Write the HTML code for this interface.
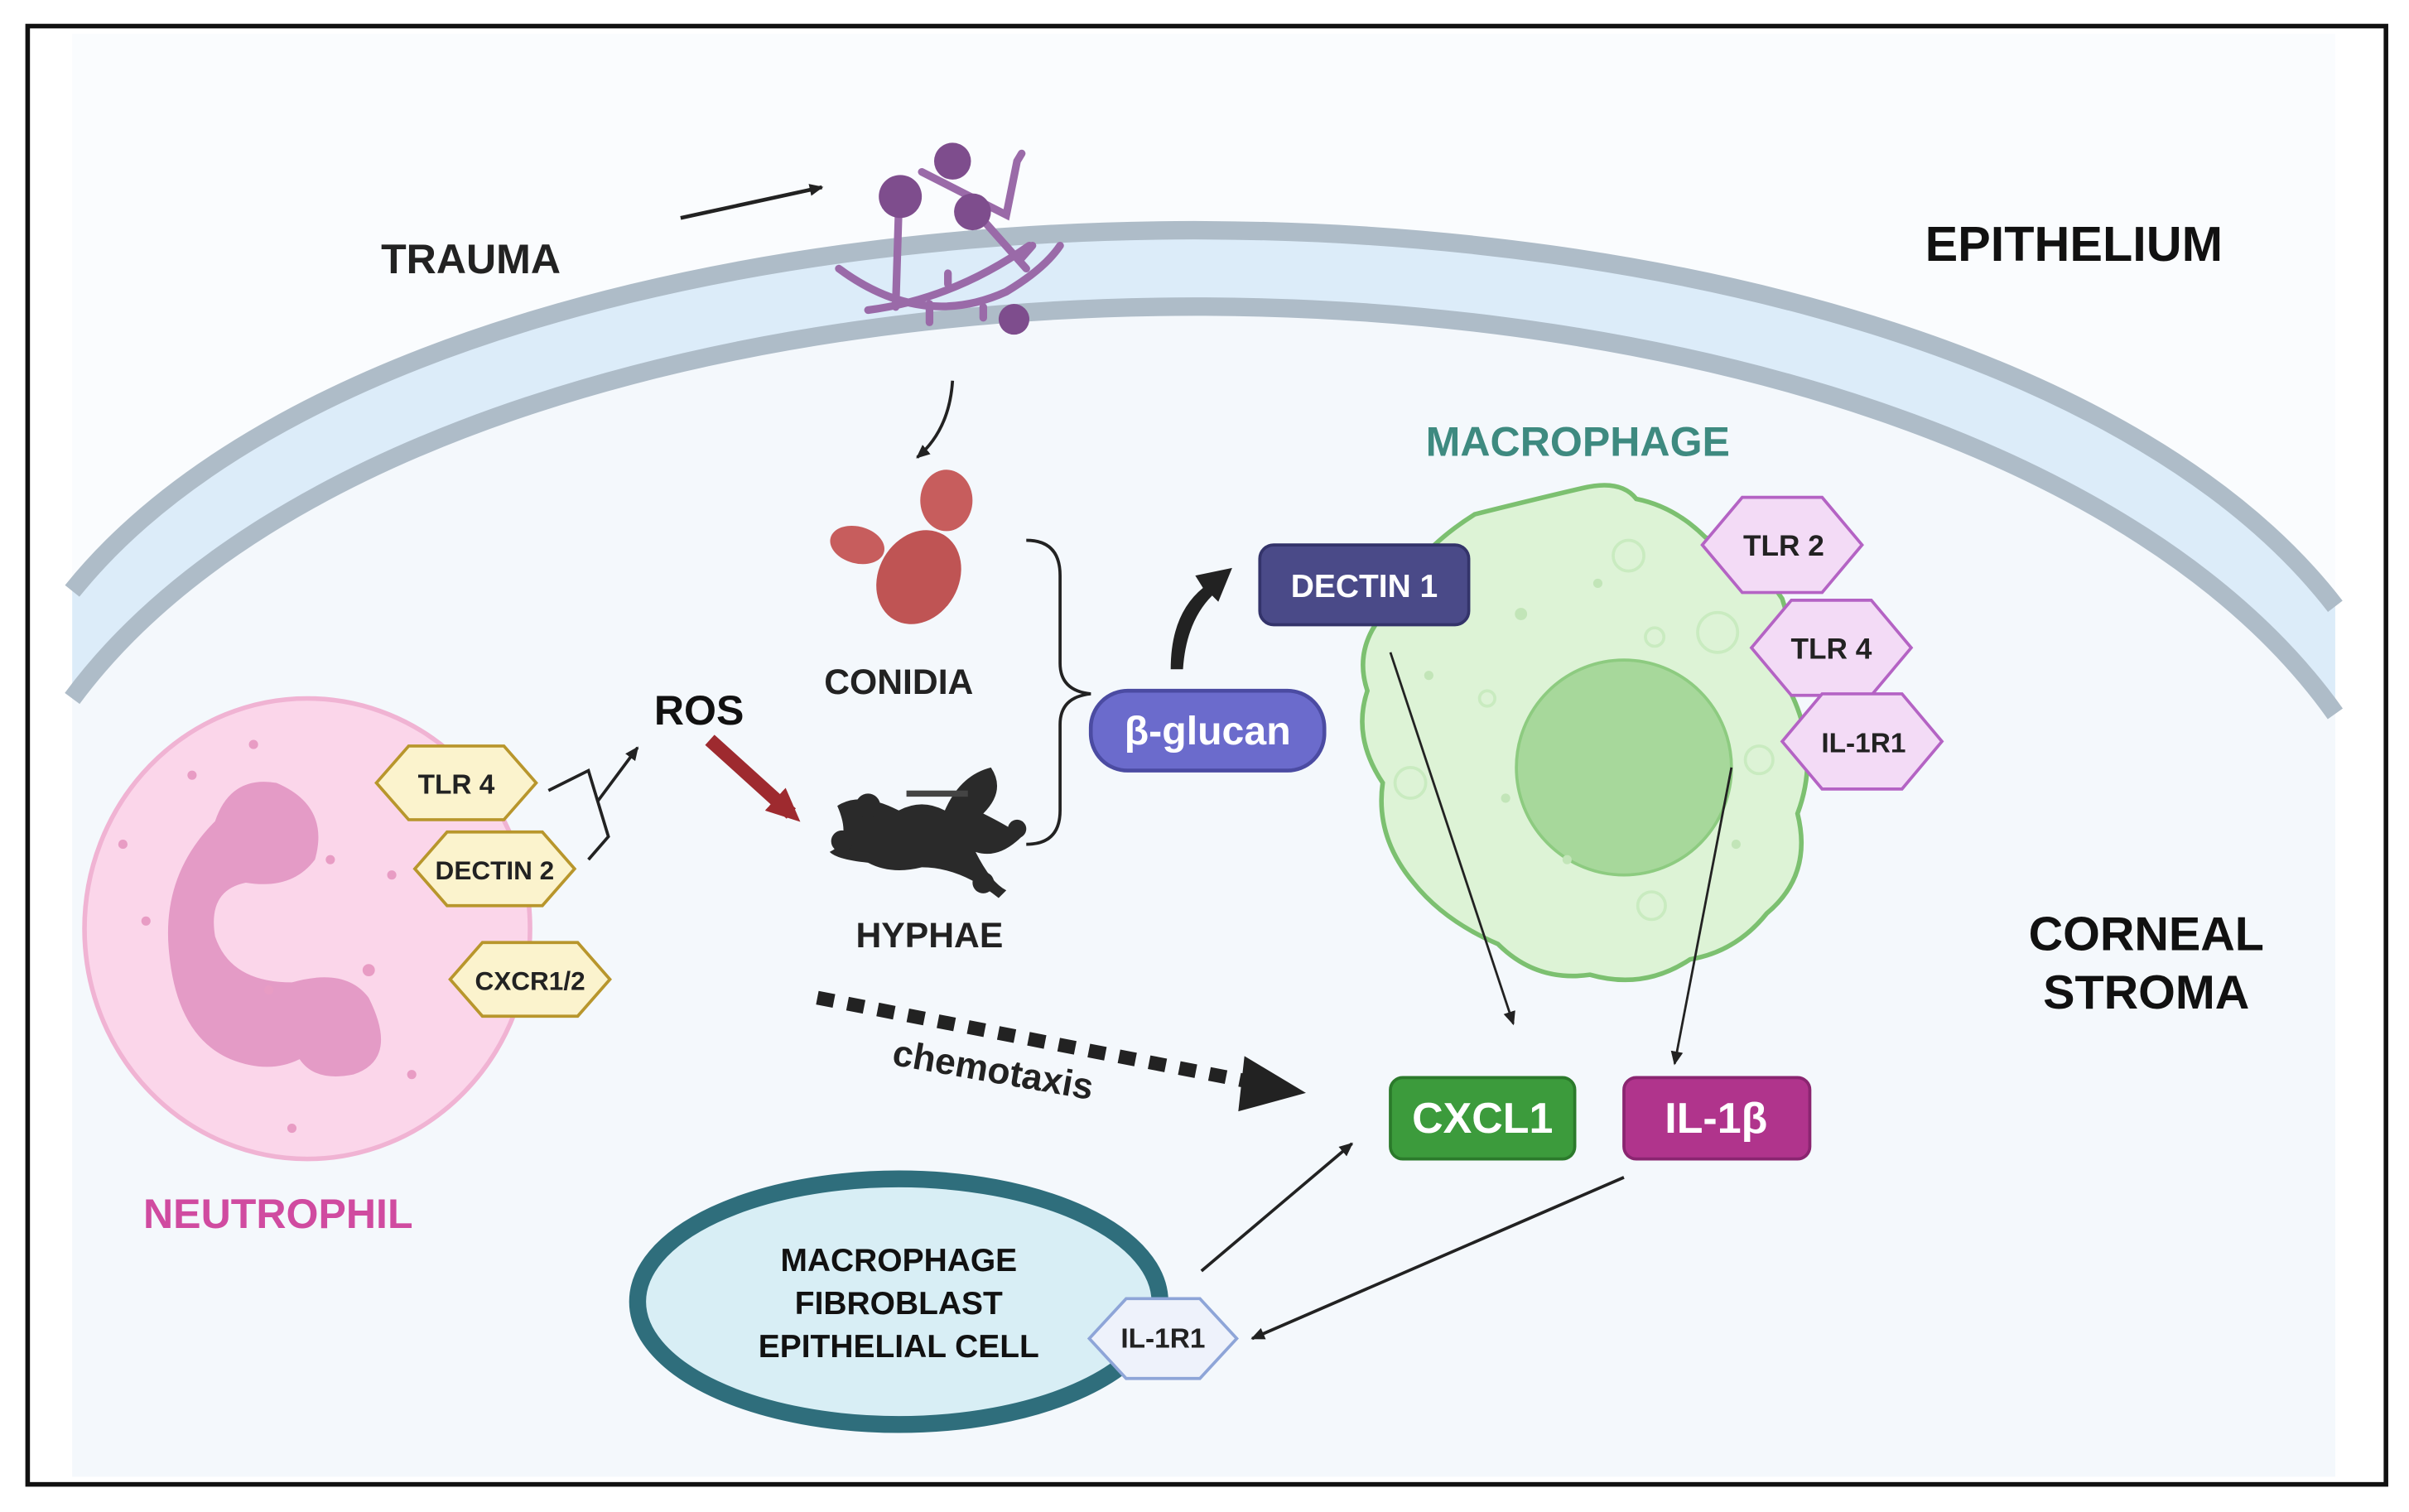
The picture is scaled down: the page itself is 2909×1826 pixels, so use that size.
<!DOCTYPE html>
<html><head><meta charset="utf-8"><style>html,body{margin:0;padding:0;background:#fff}svg{display:block}text{font-family:"Liberation Sans",sans-serif;font-weight:bold}</style></head>
<body>
<svg width="2909" height="1826" viewBox="0 0 1568 985" preserveAspectRatio="none" xmlns="http://www.w3.org/2000/svg">
<defs>
<marker id="ah" markerWidth="10" markerHeight="10" refX="8" refY="5" orient="auto" markerUnits="userSpaceOnUse"><path d="M0,1 L9,5 L0,9 Z" fill="#222"/></marker>
<marker id="ahr" markerWidth="24" markerHeight="24" refX="14" refY="12" orient="auto" markerUnits="userSpaceOnUse"><path d="M0,2 L22,12 L0,22 Z" fill="#9e2a2f"/></marker>
</defs>
<rect x="0" y="0" width="1568" height="985" fill="#fff"/>
<rect x="47" y="22" width="1473" height="940" fill="#fafcfe"/>
<path d="M47,455 C300,113 1270,113 1520,465 L1520,962 L47,962 Z" fill="#f4f8fc"/>
<path d="M47,385 C300,70 1270,70 1520,395 L1520,465 C1270,113 300,113 47,455 Z" fill="#dcecf9"/>
<path d="M47,385 C300,70 1270,70 1520,395" fill="none" stroke="#aebcc8" stroke-width="12"/>
<path d="M47,455 C300,113 1270,113 1520,465" fill="none" stroke="#aebcc8" stroke-width="12"/>
<rect x="18" y="17" width="1535" height="950" fill="none" stroke="#111" stroke-width="3"/>

<text x="248" y="178" font-size="27" fill="#222">TRAUMA</text>
<line x1="443" y1="142" x2="535" y2="122" stroke="#222" stroke-width="2.5" marker-end="url(#ah)"/>
<g stroke="#9a6aa8" stroke-width="5" fill="none" stroke-linecap="round">
<path d="M546,175 Q600,215 655,190 Q680,175 690,160"/>
<path d="M565,202 Q620,195 670,160"/>
<path d="M585,135 L583,200"/>
<path d="M600,112 L655,140 L662,105 L665,100"/>
<path d="M628,130 L668,175"/>
<path d="M605,198 L605,210 M640,200 L640,207 M617,178 L617,185 M665,168 L672,160"/>
</g>
<g fill="#7e4d8d">
<circle cx="586" cy="128" r="14"/><circle cx="620" cy="105" r="12"/><circle cx="633" cy="138" r="12"/><circle cx="660" cy="208" r="10"/>
</g>
<path d="M620,248 Q618,280 597,298" fill="none" stroke="#222" stroke-width="2" marker-end="url(#ah)"/>
<ellipse cx="558" cy="355" rx="18" ry="12" fill="#c75d5d" transform="rotate(15 558 355)"/>
<ellipse cx="616" cy="326" rx="17" ry="20" fill="#c75d5d"/>
<ellipse cx="598" cy="376" rx="26" ry="32" fill="#bf5454" transform="rotate(30 598 376)"/>
<text x="585" y="452" font-size="23" fill="#222" text-anchor="middle">CONIDIA</text>
<path d="M668,352 Q690,352 690,375 L690,432 Q690,450 710,452 Q690,454 690,472 L690,528 Q690,550 668,550" fill="none" stroke="#222" stroke-width="2"/>
<rect x="710" y="450" width="152" height="52" rx="24" fill="#6b6bcc" stroke="#4b4ba2" stroke-width="2.5"/>
<text x="786" y="485" font-size="26" fill="#fff" text-anchor="middle">β-glucan</text>
<path d="M762,436 Q762,400 783,383 L778,375 L802,370 L793,392 L789,388 Q772,405 770,436 Z" fill="#222"/>
<text x="1027" y="297" font-size="27" fill="#3e8a80" text-anchor="middle">MACROPHAGE</text>
<path d="M960,335 Q1000,325 1030,318 Q1055,312 1065,325 Q1090,330 1110,350 Q1140,360 1160,390 Q1170,420 1165,450 Q1185,490 1170,530 Q1180,570 1150,595 Q1130,620 1100,625 Q1070,645 1035,635 Q1000,640 975,615 Q940,600 920,575 Q895,545 900,510 Q880,480 890,450 Q880,420 905,395 Q920,360 960,335 Z" fill="#ddf3d6" stroke="#7cc070" stroke-width="3"/>
<circle cx="1057" cy="500" r="70" fill="#a7d89b" stroke="#8dcb80" stroke-width="2"/>
<g fill="none" stroke="#c9ebc0" stroke-width="2"><circle cx="1060" cy="362" r="10"/><circle cx="1118" cy="412" r="13"/><circle cx="1145" cy="495" r="9"/><circle cx="1075" cy="590" r="9"/><circle cx="918" cy="510" r="10"/><circle cx="1077" cy="415" r="6"/><circle cx="968" cy="455" r="5"/></g>
<g fill="#c2e5b8"><circle cx="990" cy="400" r="4"/><circle cx="1040" cy="380" r="3"/><circle cx="930" cy="440" r="3"/><circle cx="1020" cy="560" r="3"/><circle cx="1130" cy="550" r="3"/><circle cx="980" cy="520" r="3"/></g>
<rect x="820" y="355" width="136" height="52" rx="9" fill="#4a4a88" stroke="#33336a" stroke-width="2"/>
<text x="888" y="389" font-size="21" fill="#fff" text-anchor="middle">DECTIN 1</text>
<g fill="#f3dbf6" stroke="#b463c4" stroke-width="2">
<path d="M1108,355 L1134,324 L1186,324 L1212,355 L1186,386 L1134,386 Z"/>
<path d="M1140,422 L1166,391 L1218,391 L1244,422 L1218,453 L1166,453 Z"/>
<path d="M1160,483 L1186,452 L1238,452 L1264,483 L1238,514 L1186,514 Z"/>
</g>
<text x="1161" y="362" font-size="19" fill="#222" text-anchor="middle" font-weight="normal">TLR 2</text>
<text x="1192" y="429" font-size="19" fill="#222" text-anchor="middle" font-weight="normal">TLR 4</text>
<text x="1213" y="490" font-size="18" fill="#222" text-anchor="middle" font-weight="normal">IL-1R1</text>
<text x="1253" y="170" font-size="32" fill="#111">EPITHELIUM</text>
<text x="1397" y="619" font-size="31" fill="#111" text-anchor="middle">CORNEAL</text>
<text x="1397" y="657" font-size="31" fill="#111" text-anchor="middle">STROMA</text>
<ellipse cx="200" cy="605" rx="145" ry="150" fill="#fbd6ea" stroke="#f0b3d3" stroke-width="3"/>
<path d="M140,535 Q150,505 180,510 Q215,525 205,560 Q190,580 160,575 Q135,580 140,610 Q150,640 190,640 Q225,630 240,650 Q260,690 230,700 Q205,705 195,690 Q175,700 150,690 Q115,675 110,620 Q105,570 140,535 Z" fill="#e49bc6"/>
<g fill="#e89cc4"><circle cx="95" cy="600" r="3"/><circle cx="125" cy="505" r="3"/><circle cx="240" cy="632" r="4"/><circle cx="215" cy="560" r="3"/><circle cx="165" cy="485" r="3"/><circle cx="268" cy="700" r="3"/><circle cx="190" cy="735" r="3"/><circle cx="255" cy="570" r="3"/><circle cx="175" cy="645" r="3"/><circle cx="80" cy="550" r="3"/></g>
<g fill="#fbf3cd" stroke="#b8962c" stroke-width="2">
<path d="M245,510 L266,486 L328,486 L349,510 L328,534 L266,534 Z"/>
<path d="M270,566 L291,542 L353,542 L374,566 L353,590 L291,590 Z"/>
<path d="M293,638 L314,614 L376,614 L397,638 L376,662 L314,662 Z"/>
</g>
<text x="297" y="517" font-size="18" fill="#222" text-anchor="middle" font-weight="normal">TLR 4</text>
<text x="322" y="573" font-size="17" fill="#222" text-anchor="middle" font-weight="normal">DECTIN 2</text>
<text x="345" y="645" font-size="17" fill="#222" text-anchor="middle" font-weight="normal">CXCR1/2</text>
<path d="M357,515 L383,502 L396,545 L383,560" fill="none" stroke="#222" stroke-width="2"/>
<line x1="389" y1="522" x2="415" y2="487" stroke="#222" stroke-width="2" marker-end="url(#ah)"/>
<text x="455" y="472" font-size="27" fill="#111" text-anchor="middle">ROS</text>
<line x1="462" y1="482" x2="515" y2="530" stroke="#9e2a2f" stroke-width="9" marker-end="url(#ahr)"/>
<g fill="#2a2a2a">
<path d="M545,525 Q560,515 585,528 Q600,520 615,528 Q625,505 645,500 Q655,515 640,530 Q660,540 665,545 Q650,560 635,555 Q645,575 655,580 L650,585 Q625,565 600,565 Q580,570 565,562 Q545,560 540,555 Q555,548 545,525 Z"/>
<circle cx="548" cy="548" r="7"/><circle cx="565" cy="525" r="8"/><circle cx="640" cy="575" r="7"/><circle cx="662" cy="540" r="6"/>
<rect x="590" y="515" width="40" height="4" fill="#444"/>
</g>
<text x="605" y="617" font-size="23" fill="#222" text-anchor="middle">HYPHAE</text>
<line x1="532" y1="650" x2="815" y2="705" stroke="#222" stroke-width="9" stroke-dasharray="11,9"/>
<path d="M810,688 L850,712 L806,724 Z" fill="#222"/>
<text x="645" y="705" font-size="24" fill="#222" font-weight="normal" text-anchor="middle" transform="rotate(10 645 705)">chemotaxis</text>
<text x="181" y="800" font-size="27" fill="#d04ba0" text-anchor="middle">NEUTROPHIL</text>
<rect x="905" y="702" width="120" height="53" rx="8" fill="#3c9b3c" stroke="#2b7a2b" stroke-width="2"/>
<text x="965" y="738" font-size="28" fill="#fff" text-anchor="middle" font-weight="normal">CXCL1</text>
<rect x="1057" y="702" width="121" height="53" rx="8" fill="#b0348c" stroke="#8a2570" stroke-width="2"/>
<text x="1117" y="738" font-size="28" fill="#fff" text-anchor="middle" font-weight="normal">IL-1β</text>
<line x1="905" y1="425" x2="985" y2="667" stroke="#222" stroke-width="1.5" marker-end="url(#ah)"/>
<line x1="1127" y1="500" x2="1090" y2="693" stroke="#222" stroke-width="1.5" marker-end="url(#ah)"/>
<ellipse cx="585" cy="848" rx="170" ry="80" fill="#d8eef5" stroke="#2f6e7c" stroke-width="11"/>
<text x="585" y="828" font-size="21" fill="#111" text-anchor="middle">MACROPHAGE</text>
<text x="585" y="856" font-size="21" fill="#111" text-anchor="middle">FIBROBLAST</text>
<text x="585" y="884" font-size="21" fill="#111" text-anchor="middle">EPITHELIAL CELL</text>
<path d="M709,872 L733,846 L781,846 L805,872 L781,898 L733,898 Z" fill="#eef2fb" stroke="#8ea5d8" stroke-width="2"/>
<text x="757" y="878" font-size="18" fill="#222" text-anchor="middle" font-weight="normal">IL-1R1</text>
<line x1="782" y1="828" x2="880" y2="745" stroke="#222" stroke-width="2" marker-end="url(#ah)"/>
<line x1="1057" y1="767" x2="815" y2="872" stroke="#222" stroke-width="2" marker-end="url(#ah)"/>
</svg>
</body></html>
